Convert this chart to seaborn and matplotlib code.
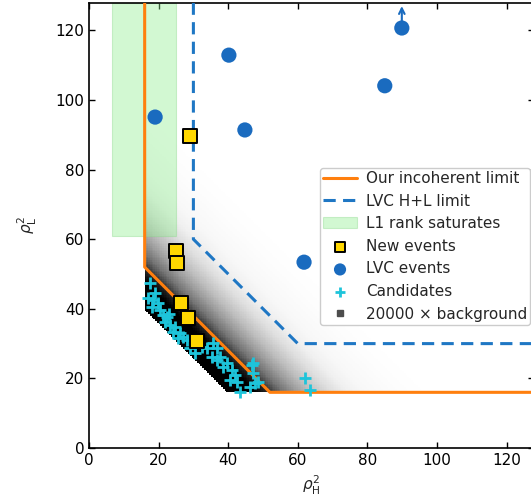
import numpy as np
import matplotlib
matplotlib.use("Agg")
import matplotlib.pyplot as plt
from matplotlib.lines import Line2D
import seaborn as sns

# limits (corner points)
our_limit_x = [16, 16, 52, 128]
our_limit_y = [128, 52, 16, 16]
lvc_limit_x = [30, 30, 60, 128]
lvc_limit_y = [128, 60, 30, 30]

# L1 rank saturation region
l1_x = [6.6, 25.0]
l1_y = [61.0, 128.0]

# new events
new_x = [29.0, 24.9, 25.2, 26.3, 28.4, 31.1]
new_y = [89.7, 56.6, 53.2, 41.6, 37.5, 30.8]

# LVC events (last one is off the top -> arrow)
lvc_x = [19.0, 40.2, 44.8, 61.8, 85.0, 89.9]
lvc_y = [95.1, 112.9, 91.4, 53.4, 104.1, 120.7]

# candidates
cand_x = [17.5, 17.0, 18.5, 19.9, 18.0, 20.4, 21.4, 22.3, 21.8, 23.3, 24.7, 24.2,
          26.1, 27.1, 28.1, 25.7, 29.0, 30.5, 32.4, 33.8, 35.7, 36.7, 35.3, 36.7,
          37.6, 39.6, 38.6, 41.0, 42.0, 40.5, 42.4, 43.4, 46.8, 47.2, 47.7, 46.3,
          48.7, 47.2, 62.1, 63.5, 19.0, 23.0]
cand_y = [47.3, 43.0, 42.5, 41.6, 40.6, 39.7, 38.2, 37.7, 36.3, 35.3, 34.9, 33.4,
          33.0, 32.0, 31.0, 31.5, 28.6, 27.2, 29.1, 28.6, 30.1, 28.6, 26.2, 25.3,
          26.2, 24.3, 23.4, 22.4, 21.0, 19.5, 19.1, 16.2, 23.9, 21.5, 18.6, 17.6,
          19.1, 24.3, 20.0, 16.7, 44.5, 38.5]

# background density (shade) vs distance above the x+y=56 edge
bg_edge = 56
bg_floor = 16
bg_offset = [0, 8, 12, 16, 20, 25, 30, 35, 40, 50, 60]
bg_shade = [1.0, 1.0, 0.85, 0.62, 0.48, 0.35, 0.22, 0.12, 0.06, 0.02, 0.0]

orange = "#ff7f0e"
blue_line = "#1f77c4"
blue_dot = "#1a6bbf"
cyan = "#1ec4da"
gold = "#ffd700"

sns.set_style("ticks", {"xtick.direction": "in", "ytick.direction": "in"})

fig = plt.figure(figsize=(5.31, 5.03), dpi=100)
ax = fig.add_axes([89 / 531, 55 / 503, 445.4 / 531, 445.4 / 503])

# background histogram
edges = np.arange(bg_floor, 128.01, 0.5)
xc = (edges[:-1] + edges[1:]) / 2
X, Y = np.meshgrid(xc, xc)
dist = X + Y - bg_edge
shade = np.interp(dist, bg_offset, bg_shade)
shade = np.ma.masked_where((dist < 0) | (shade <= 0.004), shade)
ax.pcolormesh(edges, edges, shade, cmap="Greys", vmin=0, vmax=1,
              shading="flat", antialiased=False, edgecolors="none", zorder=0)

ax.plot(our_limit_x, our_limit_y, color=orange, lw=2.2, zorder=3,
        label="Our incoherent limit")
ax.plot(lvc_limit_x, lvc_limit_y, color=blue_line, lw=2.2, ls=(0, (4, 2.4)),
        zorder=3, label="LVC H+L limit")
ax.fill_between(l1_x, l1_y[0], l1_y[1], color="lightgreen", alpha=0.4, lw=0.8,
                edgecolor="#8ad88a", zorder=1, label="L1 rank saturates")

sns.scatterplot(x=new_x, y=new_y, marker="s", s=90, color=gold, edgecolor="black",
                linewidth=1.4, zorder=6, label="New events", ax=ax)
sns.scatterplot(x=lvc_x, y=lvc_y, marker="o", s=120, color=blue_dot, edgecolor="none",
                zorder=6, label="LVC events", ax=ax)
sns.scatterplot(x=cand_x, y=cand_y, marker="+", s=80, color=cyan, linewidth=2,
                zorder=5, label="Candidates", ax=ax)

ax.annotate("", xy=(lvc_x[-1], lvc_y[-1] + 6.3), xytext=(lvc_x[-1], lvc_y[-1]),
            arrowprops=dict(arrowstyle="->", color=blue_dot, lw=1.5,
                            shrinkA=0, shrinkB=0), zorder=6)

handles, labels = ax.get_legend_handles_labels()
handles.append(Line2D([], [], marker="s", ls="", color="0.3", markersize=6))
labels.append("20000 \u00d7 background")
leg = ax.legend(handles, labels, loc="upper left", bbox_to_anchor=(0.519, 0.629),
                borderaxespad=0, fontsize=11, markerscale=0.8, frameon=True,
                edgecolor="0.8", framealpha=1, handlelength=2.2,
                handletextpad=0.6, borderpad=0.2, labelspacing=0.5)

ax.set_xlim(0, 128)
ax.set_ylim(0, 128)
ax.set_xticks(range(0, 121, 20))
ax.set_yticks(range(0, 121, 20))
ax.tick_params(direction="in", top=True, right=True, length=4, width=1,
               labelsize=11, colors="black")
for s in ax.spines.values():
    s.set_color("black")
    s.set_linewidth(1.2)
ax.set_xlabel(r"$\rho_{\rm H}^2$", fontsize=11)
ax.set_ylabel(r"$\rho_{\rm L}^2$", fontsize=11, labelpad=12)

fig.savefig("out.png", dpi=100)
